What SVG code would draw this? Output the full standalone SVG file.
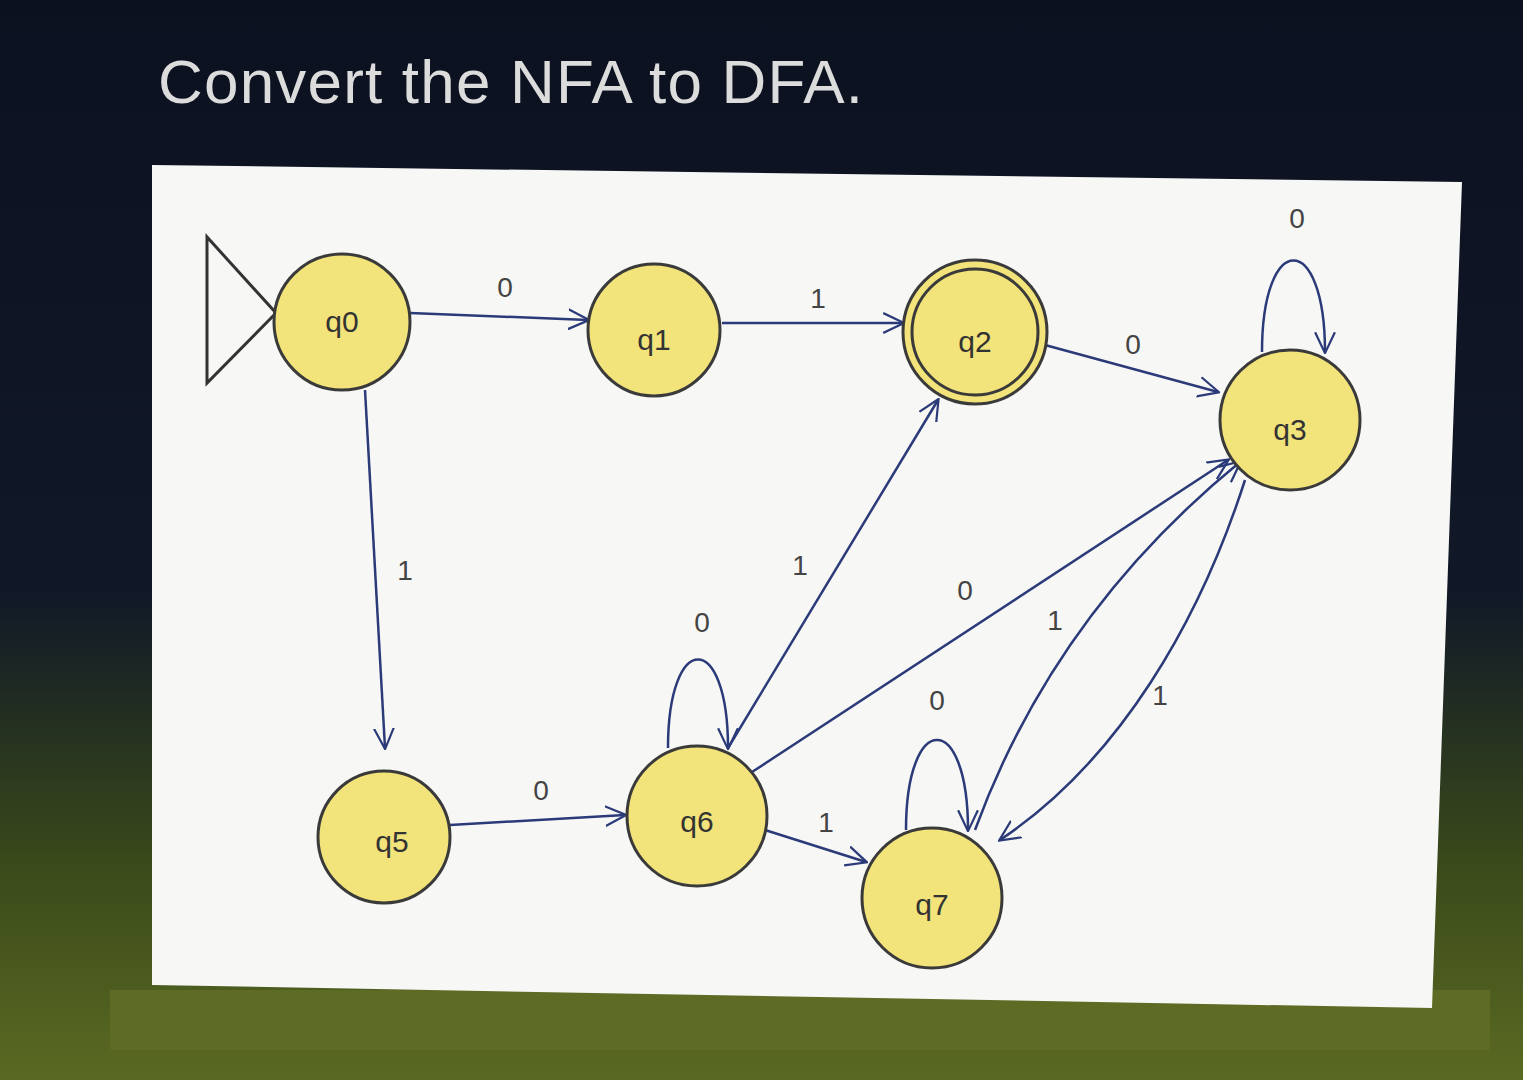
<svg xmlns="http://www.w3.org/2000/svg" width="1523" height="1080" viewBox="0 0 1523 1080">
<defs>
<linearGradient id="bg" x1="0" y1="0" x2="0" y2="1">
<stop offset="0" stop-color="#0c1120"/><stop offset="0.55" stop-color="#111827"/><stop offset="0.8" stop-color="#3a4a1a"/><stop offset="1" stop-color="#5a6a22"/>
</linearGradient>
<marker id="ah" viewBox="0 0 20 20" refX="18" refY="10" markerWidth="22" markerHeight="22" markerUnits="userSpaceOnUse" orient="auto">
<path d="M0,1 L19,10 L0,19" fill="none" stroke="#2b3a78" stroke-width="2"/>
</marker>
<style>
.n{fill:#f2e37a;stroke:#3a3a3a;stroke-width:3}
.t{font-family:"Liberation Sans",Arial,sans-serif;font-size:30px;fill:#333;text-anchor:middle}
.l{font-family:"Liberation Sans",Arial,sans-serif;font-size:28px;fill:#444;text-anchor:middle}
.e{fill:none;stroke:#2b3a78;stroke-width:2.5;marker-end:url(#ah)}
</style>
</defs>
<rect width="1523" height="1080" fill="url(#bg)"/>
<rect x="110" y="990" width="1380" height="60" fill="#5d6b25"/>
<polygon points="152,165 1462,182 1432,1008 152,985" fill="#f7f7f5"/>
<text x="158" y="103" font-family="Liberation Sans,Arial,sans-serif" font-size="62" fill="#dcdcdc" textLength="705">Convert the NFA to DFA.</text>
<polygon points="207,237 207,383 276,313" fill="none" stroke="#333" stroke-width="3"/>
<g id="connectors">
<path class="e" d="M410,313 L588,320"/><text class="l" x="505" y="297">0</text>
<path class="e" d="M722,323 L903,323"/><text class="l" x="818" y="308">1</text>
<path class="e" d="M1045,345 L1218,392"/><text class="l" x="1133" y="354">0</text>
<path class="e" d="M1262,352 C1262,230 1325,230 1325,352"/><text class="l" x="1297" y="228">0</text>
<path class="e" d="M365,390 L385,748"/><text class="l" x="405" y="580">1</text>
<path class="e" d="M450,825 L625,815"/><text class="l" x="541" y="800">0</text>
<path class="e" d="M668,748 C668,630 728,630 728,748"/><text class="l" x="702" y="632">0</text>
<path class="e" d="M728,748 L938,400"/><text class="l" x="800" y="575">1</text>
<path class="e" d="M752,772 L1228,460"/><text class="l" x="965" y="600">0</text>
<path class="e" d="M765,830 L866,862"/><text class="l" x="826" y="832">1</text>
<path class="e" d="M906,830 C906,710 968,710 968,830"/><text class="l" x="937" y="710">0</text>
<path class="e" d="M975,830 C1030,680 1120,560 1240,462"/><text class="l" x="1055" y="630">1</text>
<path class="e" d="M1245,480 C1200,620 1120,760 1000,840"/><text class="l" x="1160" y="705">1</text>
</g>
<g id="q0"><circle class="n" cx="342" cy="322" r="68"/><text class="t" x="342" y="332">q0</text></g>
<g id="q1"><circle class="n" cx="654" cy="330" r="66"/><text class="t" x="654" y="350">q1</text></g>
<g id="q2"><circle class="n" cx="975" cy="332" r="72"/><circle cx="975" cy="332" r="63" fill="none" stroke="#3a3a3a" stroke-width="3"/><text class="t" x="975" y="352">q2</text></g>
<g id="q3"><circle class="n" cx="1290" cy="420" r="70"/><text class="t" x="1290" y="440">q3</text></g>
<g id="q5"><circle class="n" cx="384" cy="837" r="66"/><text class="t" x="392" y="852">q5</text></g>
<g id="q6"><circle class="n" cx="697" cy="816" r="70"/><text class="t" x="697" y="832">q6</text></g>
<g id="q7"><circle class="n" cx="932" cy="898" r="70"/><text class="t" x="932" y="915">q7</text></g>
</svg>
